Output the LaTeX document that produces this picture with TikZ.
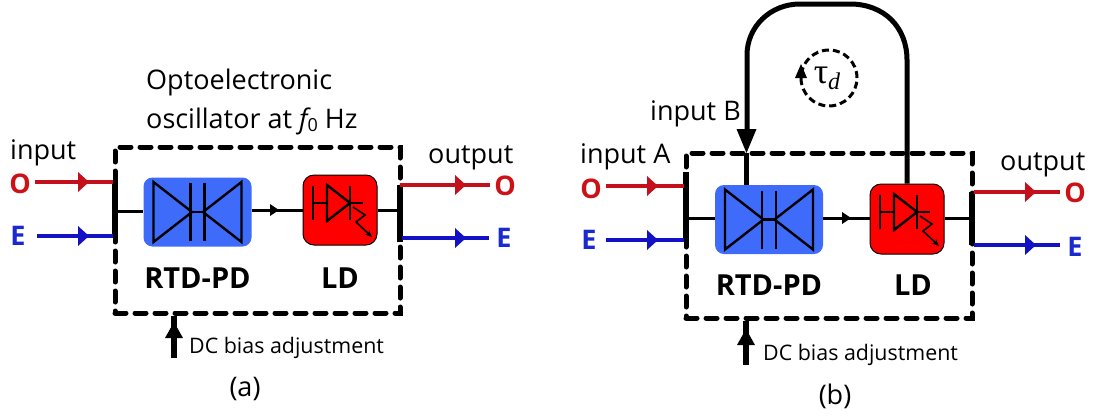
\documentclass[tikz,border=0pt]{standalone}
\usepackage{fontspec}
\setmainfont{Open Sans}
\newfontfamily\lserif{Liberation Serif}
\usetikzlibrary{arrows.meta}
\definecolor{blk}{HTML}{3F6BFA}
\definecolor{rline}{HTML}{C4101C}
\definecolor{bline}{HTML}{1212C4}
\definecolor{olab}{HTML}{CC1216}
\definecolor{elab}{HTML}{1A2AD0}
\tikzset{
  x=1pt,y=-1pt,
  lab/.style={inner sep=0pt,font=\fontsize{27}{27}\selectfont},
  smalllab/.style={inner sep=0pt,font=\fontsize{21.4}{21.4}\selectfont},
  boldlab/.style={inner sep=0pt,font=\fontsize{29}{29}\selectfont\bfseries},
  portO/.style={inner sep=0pt,text=olab,font=\fontsize{27}{27}\selectfont\bfseries},
  portE/.style={inner sep=0pt,text=elab,font=\fontsize{27}{27}\selectfont\bfseries},
  pdbox/.style={fill=blk,rounded corners=9pt,minimum width=108pt,minimum height=69pt,inner sep=0pt},
  ldbox/.style={fill=red,draw=black,line width=1pt,rounded corners=11pt,minimum width=74pt,minimum height=70pt,inner sep=0pt},
  dashbox/.style={draw=black,line width=5pt,line cap=round,dash pattern=on 11pt off 9pt},
  bar/.style={line width=5.5pt},
  wire/.style={line width=3pt},
  thin sym/.style={line width=2.4pt,line join=miter},
  pics/pdsym/.style={code={
    \draw[thin sym] (-44,-30) -- (-5.5,0) -- (-44,30) -- cycle;
    \draw[thin sym] (44,-30) -- (5.5,0) -- (44,30) -- cycle;
    \draw[thin sym] (-7,-29) -- (-7,29);
    \draw[thin sym] (7,-29) -- (7,29);
    \draw[thin sym] (-7,0) -- (7,0);
  }},
  pics/ldsym/.style={code={
    \draw[thin sym] (-27,-24) -- (-27,10);
    \draw[thin sym] (-27,-7) -- (-13,-7);
    \draw[thin sym] (-13,-25) -- (-13,11) -- (10,-7) -- cycle;
    \draw[thin sym] (10,-24) -- (10,10);
    \draw[thin sym] (10,-7) -- (23,-7);
    \draw[line width=1.6pt,-{Stealth[length=7pt,width=6pt]}] (13,-3) -- (25,5) -- (16,12) -- (32,27);
  }}
}
\newcommand{\midtip}[3]{\fill[#1] (#2,#3) -- ++(-11,-10) -- ++(0,20) -- cycle;}
\newcommand{\dchead}[2]{\fill (#1,#2) -- ++(-9,16) -- ++(18,0) -- cycle;}
\begin{document}
\begin{tikzpicture}
\useasboundingbox (0,0) rectangle (1099,416);

% ---------- (a) ----------
\node[dashbox,minimum width=285pt,minimum height=166pt,inner sep=0pt] (boxa) at (257.5,230) {};
\node[pdbox] (pda) at (197.5,212) {};
\node[ldbox] (lda) at (340,210) {};
\pic at (pda.center) {pdsym};
\pic at (lda.center) {ldsym};
\coordinate (la1) at (115,180); \coordinate (la2) at (115,238);
\coordinate (ra1) at (400,185); \coordinate (ra2) at (400,242);
\coordinate (lwa) at (115,211); \coordinate (rwa) at (400,210);
\draw[bar] (la1) -- (la2);
\draw[bar] (ra1) -- (ra2);
\draw[wire] (lwa) -- (pda.west |- lwa);
\draw[wire] (pda.east |- lda.west) -- (lda.west);
\draw[wire] (lda.east) -- (rwa);
\fill (279,210) -- ++(-9,-6) -- ++(0,12) -- cycle;

\node[portO] (oia) at (20,184) {O};
\node[portE] (eia) at (18,236) {E};
\coordinate (oiae) at (113,182); \coordinate (eiae) at (113,236);
\draw[rline,line width=3.5pt] (35,182) -- (oiae);
\draw[bline,line width=3.5pt] (37,236) -- (eiae);
\midtip{rline}{89}{182}
\midtip{bline}{89}{236}
\node[portO] (ooa) at (505,186) {O};
\node[portE] (eoa) at (504,238) {E};
\draw[rline,line width=3.5pt] (ra1) -- (490,185);
\draw[bline,line width=3.5pt] (402,238) -- (489,238);
\midtip{rline}{466}{185}
\midtip{bline}{466}{238}

\node[lab,anchor=base west] (inpa) at (10,159) {input};
\node[lab,anchor=base west] (outa) at (428,163) {output};
\node[lab,anchor=base west] (t1) at (146,89) {Optoelectronic};
\node[lab,anchor=base west] (t2) at (146,128) {oscillator at {\itshape f}\raisebox{-3pt}{\fontsize{18}{18}\selectfont 0} Hz};
\node[boldlab] (rtda) at (197.5,278) {RTD-PD};
\node[boldlab] (lablda) at (340,278) {LD};

\coordinate (dca) at (174,358);
\draw[line width=6pt] (dca) -- (boxa.south -| dca);
\dchead{174}{322}
\node[smalllab,anchor=base west] (dctexta) at (189,353) {DC bias adjustment};
\node[lab,anchor=center] (capa) at (245,389) {(a)};

% ---------- (b) ----------
\node[dashbox,minimum width=286pt,minimum height=165pt,inner sep=0pt] (boxb) at (829,235.5) {};
\node[pdbox] (pdb) at (769,219.5) {};
\node[ldbox] (ldb) at (907,219) {};
\pic at (pdb.center) {pdsym};
\pic at (ldb.center) {ldsym};
\coordinate (lb1) at (686,172); \coordinate (lb2) at (686,242);
\coordinate (rb1) at (972,192); \coordinate (rb2) at (972,245);
\coordinate (lwb) at (686,218); \coordinate (rwb) at (972,218);
\draw[bar] (lb1) -- (lb2);
\draw[bar] (rb1) -- (rb2);
\draw[wire] (lwb) -- (pdb.west |- lwb);
\draw[wire] (pdb.east |- lwb) -- (ldb.west |- lwb);
\draw[wire] (ldb.east |- rwb) -- (rwb);
\fill (851,218) -- ++(-9,-6) -- ++(0,12) -- cycle;

\node[portO] (oib) at (591,189) {O};
\node[portE] (eib) at (589,240) {E};
\coordinate (oibe) at (684,186); \coordinate (eibe) at (684,240);
\draw[rline,line width=3.5pt] (606,186) -- (oibe);
\draw[bline,line width=3.5pt] (606,240) -- (eibe);
\midtip{rline}{658}{186}
\midtip{bline}{658}{240}
\node[portO] (oob) at (1075,193) {O};
\node[portE] (eob) at (1075,247) {E};
\draw[rline,line width=3.5pt] (974,192) -- (1060,192);
\draw[bline,line width=3.5pt] (974,245) -- (1060,245);
\midtip{rline}{1036}{192}
\midtip{bline}{1036}{245}

\coordinate (tipb) at (746.5,153);
\draw[line width=5pt] (ldb.north) -- (907,60) .. controls (907,27) and (884,4) .. (850,4) -- (800,4)
  .. controls (770,4) and (747,27) .. (747,55) -- (747,135);
\fill (tipb) -- ++(-10,-24) -- ++(20,0) -- cycle;
\draw[line width=5pt] (tipb) -- (pdb.north -| tipb);

\coordinate (dlyc) at (829,78);
\draw[line width=3pt,dash pattern=on 7pt off 4pt] (dlyc) circle[radius=28pt];
\fill (801,64) -- ++(-6,14) -- ++(12,0) -- cycle;
\node[inner sep=0pt,font=\fontsize{36}{36}\selectfont\lserif] (taud) at (827,78) {τ\raisebox{-6pt}{\fontsize{24}{24}\selectfont\itshape d}};

\node[lab,anchor=base west] (inpb) at (650,120) {input B};
\node[lab,anchor=base west] (inpa2) at (580,163) {input A};
\node[lab,anchor=base west] (outb) at (1000,170) {output};
\node[boldlab] (rtdb) at (769,285) {RTD-PD};
\node[boldlab] (labldb) at (913,285) {LD};

\coordinate (dcb) at (746,365);
\draw[line width=6pt] (dcb) -- (boxb.south -| dcb);
\dchead{746}{329}
\node[smalllab,anchor=base west] (dctextb) at (763,360) {DC bias adjustment};
\node[lab,anchor=center] (capb) at (835,396) {(b)};
\end{tikzpicture}
\end{document}
